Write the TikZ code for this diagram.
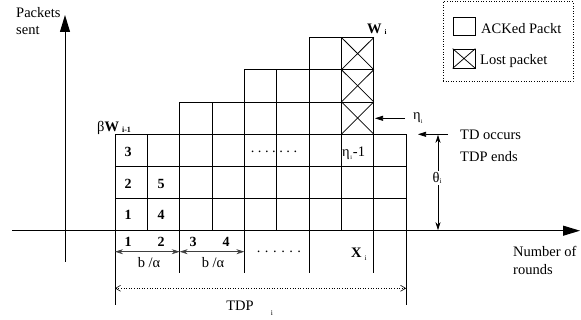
\documentclass[tikz,border=0pt]{standalone}
\usepackage{fontspec}
\setmainfont{Liberation Serif}
\usetikzlibrary{arrows.meta}
\begin{document}
\begin{tikzpicture}[x=1pt,y=-1pt,
  lbl/.style={font=\fontsize{14.5}{17}\selectfont, inner sep=0pt},
  num/.style={font=\fontsize{14}{16}\selectfont\bfseries, inner sep=0pt},
  sub/.style={font=\fontsize{7.5}{8}\selectfont, inner sep=0pt},
  axisline/.style={line width=1pt,-{Triangle[length=17pt,width=10pt]}},
  gridline/.style={line width=0.75pt},
  ptr/.style={line width=0.75pt,-{Triangle[length=8pt,width=5pt]}},
  dimline/.style={line width=0.6pt,draw=black!75,{Stealth[length=8pt,width=5pt]}-{Stealth[length=8pt,width=5pt]}},
  tdpline/.style={line width=0.6pt,dotted,{Straight Barb[length=5pt,width=6pt]}-{Straight Barb[length=5pt,width=6pt]}},
]
\useasboundingbox (0,0) rectangle (581,320);
% axes
\coordinate (xs) at (12,230.7);
\coordinate (xe) at (580,230.7);
\coordinate (ys) at (65,262);
\coordinate (ye) at (65,15);
\draw[axisline] (xs) -- (xe);
\draw[axisline] (ys) -- (ye);
\node[lbl,anchor=base west] (pk) at (16,17.5) {Packets};
\node[lbl,anchor=base west] (st) at (16,35) {sent};
\node[lbl,anchor=base west] (nr1) at (513,256.7) {Number of};
\node[lbl,anchor=base west] (nr2) at (513,275) {rounds};
% grid geometry
\def\cw{32.35}
\def\rh{32.2}
% rows 1-3
\foreach \j in {0,1,2,3} {
  \draw[gridline] (115,{230.7-\rh*\j}) -- ({115+9*\cw},{230.7-\rh*\j});
}
\foreach \k in {0,...,9} {
  \draw[gridline] ({115+\k*\cw},230.7) -- ({115+\k*\cw},{230.7-3*\rh});
}
% row 4
\draw[gridline] ({115+2*\cw},{230.7-4*\rh}) -- ({115+8*\cw},{230.7-4*\rh});
\foreach \k in {2,...,8} {
  \draw[gridline] ({115+\k*\cw},{230.7-3*\rh}) -- ({115+\k*\cw},{230.7-4*\rh});
}
% row 5
\draw[gridline] ({115+4*\cw},{230.7-5*\rh}) -- ({115+8*\cw},{230.7-5*\rh});
\foreach \k in {4,...,8} {
  \draw[gridline] ({115+\k*\cw},{230.7-4*\rh}) -- ({115+\k*\cw},{230.7-5*\rh});
}
% row 6
\draw[gridline] ({115+6*\cw},{230.7-6*\rh}) -- ({115+8*\cw},{230.7-6*\rh});
\foreach \k in {6,...,8} {
  \draw[gridline] ({115+\k*\cw},{230.7-5*\rh}) -- ({115+\k*\cw},{230.7-6*\rh});
}
% lost packets
\foreach \j in {3,4,5} {
  \draw[gridline] ({115+7*\cw},{230.7-\j*\rh}) -- ({115+8*\cw},{230.7-(\j+1)*\rh});
  \draw[gridline] ({115+8*\cw},{230.7-\j*\rh}) -- ({115+7*\cw},{230.7-(\j+1)*\rh});
}
% cell labels
\node[num,anchor=base] (r3) at (128,156.7) {3};
\node[num,anchor=base] (r2) at (128,188.3) {2};
\node[num,anchor=base] (r1) at (128,219.5) {1};
\node[num,anchor=base] (r5) at (161,188.3) {5};
\node[num,anchor=base] (r4) at (161,219.5) {4};
\node[lbl,anchor=base] (dots1) at (274,153) {.\hspace{3.5pt}.\hspace{3.5pt}.\hspace{3.5pt}.\hspace{3.5pt}.\hspace{3.5pt}.\hspace{3.5pt}.};
\node[lbl,anchor=base west] (eta1) at (342,156.7) {η\hspace{0.5pt}\raisebox{-3pt}{\fontsize{6}{7}\selectfont i}\hspace{1pt}-1};
% titles
\node[lbl,anchor=base west] (bw) at (97,131.7) {β\textbf{W}\hspace{3pt}\raisebox{-1pt}{\fontsize{8}{9}\selectfont\bfseries i-1}};
\node[lbl,anchor=base west] (wi) at (367,33.3) {\textbf{W}\hspace{3pt}\raisebox{-1pt}{\fontsize{7}{8}\selectfont\bfseries i}};
% eta pointer
\coordinate (eta0) at (405,118.3);
\coordinate (eta1p) at (375,118.3);
\draw[ptr] (eta0) -- (eta1p);
\node[lbl,anchor=base west] (etal) at (413,120) {η\raisebox{-4pt}{\fontsize{6}{7}\selectfont i}};
% TD pointer
\coordinate (td0) at (448,134.3);
\coordinate (td1) at (418,134.3);
\draw[ptr] (td0) -- (td1);
\node[lbl,anchor=base west] (tdo) at (460,140) {TD occurs};
\node[lbl,anchor=base west] (tde) at (460,161.5) {TDP ends};
% theta
\coordinate (th0) at (438,134.8);
\coordinate (th1) at (438,230.2);
\draw[line width=0.6pt,{Stealth[length=8pt,width=5pt]}-{Stealth[length=8pt,width=5pt]}] (th0) -- (th1);
\node[lbl,fill=white,inner sep=1pt] (thl) at (437,178) {θ\raisebox{-1pt}{\fontsize{7}{8}\selectfont i}};
% legend
\node[draw,dotted,line width=0.6pt,minimum width=130pt,minimum height=80pt,inner sep=0pt] (leg) at (508,41.7) {};
\node[draw,line width=0.75pt,minimum width=22pt,minimum height=17.5pt,inner sep=0pt] (la) at (464,26.3) {};
\node[draw,line width=0.75pt,minimum width=22pt,minimum height=19pt,inner sep=0pt] (lb) at (464,58.5) {};
\draw[line width=0.75pt] (lb.north west) -- (lb.south east) (lb.north east) -- (lb.south west);
\node[lbl,anchor=base west] (lat) at (481,33.3) {ACKed Packt};
\node[lbl,anchor=base west] (lbt) at (480,65) {Lost packet};
% ticks below axis
\foreach \k in {2,4,6,8} {
  \draw[gridline] ({115+\k*\cw},230.7) -- ({115+\k*\cw},273);
}
\draw[gridline] (115,230.7) -- (115,305);
\draw[gridline] ({115+9*\cw},230.7) -- ({115+9*\cw},305);
% round numbers
\node[num,anchor=base] (n1) at (128,246.7) {1};
\node[num,anchor=base] (n2) at (161,246.7) {2};
\node[num,anchor=base] (n3) at (193,246.7) {3};
\node[num,anchor=base] (n4) at (226,246.7) {4};
% b/alpha
\coordinate (b0) at (115,251.7);
\coordinate (b1) at ({115+2*\cw},251.7);
\coordinate (b2) at ({115+4*\cw},251.7);
\draw[dimline] (b0) -- (b1);
\draw[dimline] (b1) -- (b2);
\node[lbl,anchor=base] (ba1) at (149,268) {b /α};
\node[lbl,anchor=base] (ba2) at (213,268) {b /α};
\node[lbl,anchor=base] (dots2) at (279,253) {.\hspace{4.5pt}.\hspace{4.5pt}.\hspace{4.5pt}.\hspace{4.5pt}.\hspace{4.5pt}.};
\node[lbl,anchor=base west] (xi) at (351,258) {\textbf{X}\hspace{3pt}\raisebox{-3pt}{\fontsize{7}{8}\selectfont i}};
% TDP
\coordinate (t0) at (115,288.3);
\coordinate (t1) at ({115+9*\cw},288.3);
\draw[tdpline] (t0) -- (t1);
\node[lbl,anchor=base] (tdp) at (240,311) {TDP};
\node[sub,anchor=base] (tdpi) at (272,316) {i};
\end{tikzpicture}
\end{document}
